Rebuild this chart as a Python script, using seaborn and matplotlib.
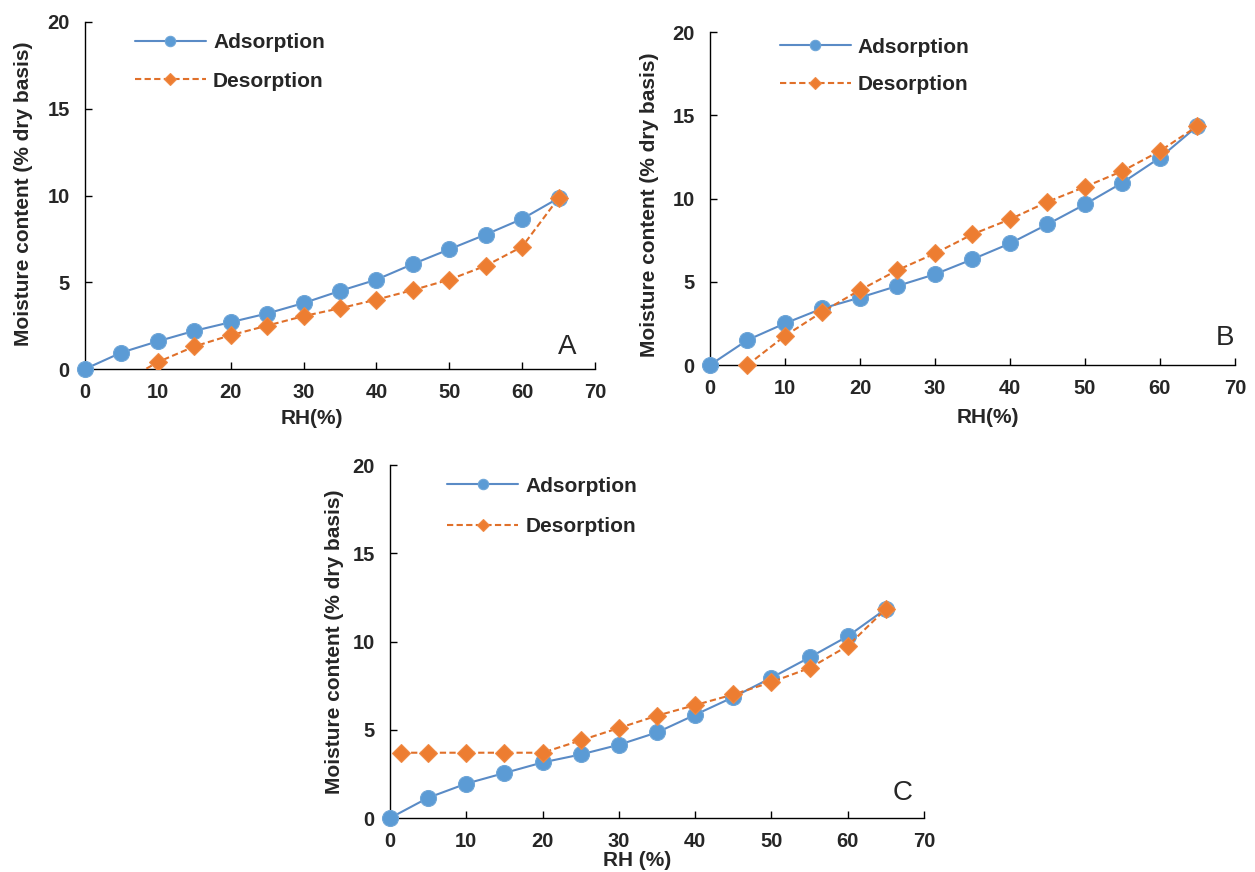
import matplotlib
matplotlib.use("Agg")
import matplotlib.pyplot as plt
import seaborn as sns
import pandas as pd

# ---- data ----
rh = [0, 5, 10, 15, 20, 25, 30, 35, 40, 45, 50, 55, 60, 65]
rh_des = [5, 10, 15, 20, 25, 30, 35, 40, 45, 50, 55, 60, 65]
rh_des_c = [1.5, 5, 10, 15, 20, 25, 30, 35, 40, 45, 50, 55, 60, 65]

ads_a = [0, 0.95, 1.6, 2.2, 2.7, 3.2, 3.8, 4.5, 5.15, 6.05, 6.9, 7.75, 8.65, 9.85]
des_a = [-0.8, 0.4, 1.3, 1.95, 2.5, 3.05, 3.5, 4.0, 4.55, 5.15, 5.95, 7.05, 9.85]

ads_b = [0, 1.5, 2.5, 3.4, 4.05, 4.75, 5.45, 6.35, 7.3, 8.45, 9.65, 10.95, 12.45, 14.35]
des_b = [0.0, 1.75, 3.2, 4.5, 5.7, 6.7, 7.85, 8.75, 9.8, 10.7, 11.65, 12.85, 14.35]

ads_c = [0, 1.15, 1.95, 2.55, 3.15, 3.6, 4.15, 4.85, 5.85, 6.85, 7.95, 9.1, 10.3, 11.85]
des_c = [3.7, 3.7, 3.7, 3.7, 3.7, 4.4, 5.1, 5.8, 6.4, 7.0, 7.7, 8.5, 9.75, 11.85]

panel_letters = ["A", "B", "C"]
xlabels = ["RH(%)", "RH(%)", "RH (%)"]
ylabel = "Moisture content (% dry basis)"
series_names = ["Adsorption", "Desorption"]
xticks = [0, 10, 20, 30, 40, 50, 60, 70]
yticks = [0, 5, 10, 15, 20]

sns.set_theme(style="ticks")
plt.rcParams["font.family"] = ["Liberation Sans", "DejaVu Sans"]

fig = plt.figure(figsize=(12.55, 8.72), dpi=100)

positions = [
    [0.0677, 0.5768, 0.4064, 0.398],
    [0.5657, 0.5814, 0.4183, 0.3819],
    [0.3108, 0.0619, 0.4255, 0.4048],
]
letter_pos = [(0.945, 0.063), (0.981, 0.081), (0.96, 0.071)]
legend_anchor = [(0.098, 0.967), (0.133, 0.983), (0.107, 0.967)]
legend_spacing = [0.92, 0.88, 1.02]
xlabel_coords = [(0.445, -0.115), (0.53, -0.13), (0.4625, -0.094)]
ylabel_coords = [(-0.102, 0.504), (-0.097, 0.48), (-0.086, 0.5)]

panels = [
    (rh, ads_a, rh_des, des_a, True),
    (rh, ads_b, rh_des, des_b, False),
    (rh, ads_c, rh_des_c, des_c, False),
]

blue_line = "#5A8BC6"
blue_mk = "#5B9BD5"
orange_line = "#E0702A"
orange_mk = "#ED7D31"

for i, (xa, ya, xd, yd, clip_des) in enumerate(panels):
    ax = fig.add_axes(positions[i])
    df_a = pd.DataFrame({"RH": xa, "MC": ya})
    df_d = pd.DataFrame({"RH": xd, "MC": yd})
    sns.lineplot(data=df_a, x="RH", y="MC", ax=ax, color=blue_line, lw=1.5,
                 marker="o", markersize=11.5, markerfacecolor=blue_mk,
                 markeredgecolor="#6FA6D8", markeredgewidth=0.8,
                 label=series_names[0], clip_on=False, zorder=3)
    sns.lineplot(data=df_d, x="RH", y="MC", ax=ax, color=orange_line, lw=1.5,
                 linestyle=(0, (3, 1.6)),
                 marker="D", markersize=9, markerfacecolor=orange_mk,
                 markeredgecolor="#F08A45", markeredgewidth=0.8,
                 label=series_names[1], clip_on=clip_des, zorder=4)
    ax.set_xlim(0, 70)
    ax.set_ylim(0, 20)
    ax.set_xticks(xticks)
    ax.set_yticks(yticks)
    ax.tick_params(direction="in", length=5, width=1, color="black",
                   labelsize=14.5, pad=10)
    ax.tick_params(axis="y", pad=11)
    for lab in ax.get_xticklabels() + ax.get_yticklabels():
        lab.set_fontweight("bold")
    for s in ["top", "right"]:
        ax.spines[s].set_visible(False)
    for s in ["left", "bottom"]:
        ax.spines[s].set_color("black")
        ax.spines[s].set_linewidth(1)
    ax.set_xlabel(xlabels[i], fontsize=15, fontweight="bold")
    ax.set_ylabel(ylabel, fontsize=15, fontweight="bold")
    ax.xaxis.set_label_coords(*xlabel_coords[i])
    ax.yaxis.set_label_coords(*ylabel_coords[i])
    ax.text(letter_pos[i][0], letter_pos[i][1], panel_letters[i],
            transform=ax.transAxes, fontsize=20, ha="center", va="center")
    leg = ax.legend(loc="upper left", bbox_to_anchor=legend_anchor[i],
                    frameon=False, fontsize=15, handlelength=3.4,
                    handletextpad=0.35, labelspacing=legend_spacing[i],
                    borderpad=0, borderaxespad=0, markerscale=0.65)
    for t in leg.get_texts():
        t.set_fontweight("bold")

fig.savefig("out.png", dpi=100)
